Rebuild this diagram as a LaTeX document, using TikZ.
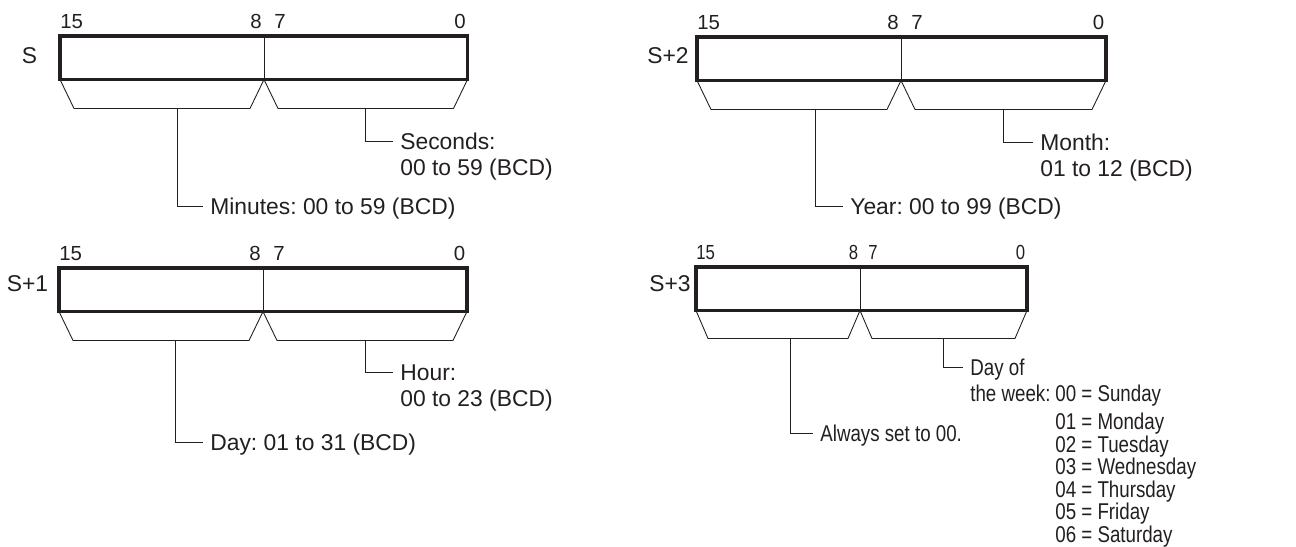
\documentclass[tikz,border=0pt]{standalone}
\usepackage{fontspec}
\setmainfont{Liberation Sans}
\newfontfamily\narrowfam[FakeStretch=0.82]{Liberation Sans}
\usepackage{tikz}
\usetikzlibrary{positioning,calc}
\definecolor{ink}{HTML}{231F20}
\frenchspacing
\newcommand\fieldfont{\fontsize{13}{15.5}\selectfont}
\newcommand\bitfont{\fontsize{11.6}{13.5}\selectfont}
\newcommand\narrowfont{\narrowfam\fontsize{13}{15.5}\selectfont}
\newcommand\narrowbitfont{\narrowfam\fontsize{11.6}{13.5}\selectfont}
\tikzset{
  regpart/.style={draw=ink, line width=0.5pt, minimum height=8.7mm, inner sep=0pt, outer sep=0pt},
  regframe/.style={draw=ink, line width=1.8pt},
  regname/.style={font=\fieldfont, text=ink, inner sep=0pt, text height=3.3mm, text depth=0pt, anchor=east},
  bitnum/.style={font=\bitfont, text=ink, inner sep=0pt, text depth=0pt},
  fieldtext/.style={font=\fieldfont, text=ink, anchor=west, inner xsep=1.4mm, inner ysep=0pt,
    text height=3.3mm, text depth=0pt},
  narrowtext/.style={fieldtext, font=\narrowfont},
  bracket/.style={draw=ink, line width=0.5pt},
  stemline/.style={draw=ink, line width=0.5pt},
}

\begin{document}
\begin{tikzpicture}
  \useasboundingbox (0,0) rectangle (25.92,10.94);
  % S: minutes / seconds
  \node[regname] (nS) at (0.75,9.84) {S};
  \node[regpart, minimum width=40.8mm, anchor=north west] (Sl) at (1.20,10.22) {};
  \node[regpart, minimum width=40.7mm, right=0pt of Sl] (Sr) {};
  \draw[regframe] (Sl.north west) rectangle (Sr.south east);
  \node[bitnum, above right=1.5mm and 0mm of Sl.north west] (S15) {15};
  \node[bitnum, above left=1.5mm and 0.4mm of Sl.north east] (S8) {8};
  \node[bitnum, above right=1.5mm and 2mm of Sr.north west] (S7) {7};
  \node[bitnum, above left=1.5mm and 0.3mm of Sr.north east] (S0) {0};
  \draw[bracket] (Sl.south west) -- ++(0.28,-0.58) -- ($(Sl.south east)+(-0.28,-0.58)$) -- (Sl.south east);
  \draw[bracket] (Sr.south west) -- ++(0.28,-0.58) -- ($(Sr.south east)+(-0.28,-0.58)$) -- (Sr.south east);
  \coordinate (Slstem) at ($(Sl.south)+(0.30,-0.58)$);
  \coordinate (Srstem) at ($(Sr.south)+(0,-0.58)$);
  \node[fieldtext] (Smin) at (4.06,6.82) {Minutes: 00 to 59 (BCD)};
  \node[fieldtext] (Ssec) at (7.86,8.12) {Seconds:};
  \node[fieldtext] (Ssec2) at ($(Ssec.west)+(0,-0.52)$) {00 to 59 (BCD)};
  \draw[stemline] (Slstem) |- (Smin.west);
  \draw[stemline] (Srstem) |- (Ssec.west);
  % S+1: day / hour
  \node[regname] (nS1) at (0.97,5.28) {S+1};
  \node[regpart, minimum width=40.8mm, anchor=north west] (S1l) at (1.18,5.58) {};
  \node[regpart, minimum width=40.8mm, right=0pt of S1l] (S1r) {};
  \draw[regframe] (S1l.north west) rectangle (S1r.south east);
  \node[bitnum, above right=1.5mm and 0mm of S1l.north west] (S115) {15};
  \node[bitnum, above left=1.5mm and 0.4mm of S1l.north east] (S18) {8};
  \node[bitnum, above right=1.5mm and 2mm of S1r.north west] (S17) {7};
  \node[bitnum, above left=1.5mm and 0.3mm of S1r.north east] (S10) {0};
  \draw[bracket] (S1l.south west) -- ++(0.28,-0.58) -- ($(S1l.south east)+(-0.28,-0.58)$) -- (S1l.south east);
  \draw[bracket] (S1r.south west) -- ++(0.28,-0.58) -- ($(S1r.south east)+(-0.28,-0.58)$) -- (S1r.south east);
  \coordinate (S1lstem) at ($(S1l.south)+(0.28,-0.58)$);
  \coordinate (S1rstem) at ($(S1r.south)+(0,-0.58)$);
  \node[fieldtext] (S1day) at (4.06,2.10) {Day: 01 to 31 (BCD)};
  \node[fieldtext] (S1hour) at (7.86,3.49) {Hour:};
  \node[fieldtext] (S1hour2) at ($(S1hour.west)+(0,-0.52)$) {00 to 23 (BCD)};
  \draw[stemline] (S1lstem) |- (S1day.west);
  \draw[stemline] (S1rstem) |- (S1hour.west);
  % S+2: year / month
  \node[regname] (nS2) at (13.78,9.84) {S+2};
  \node[regpart, minimum width=40.8mm, anchor=north west] (S2l) at (13.94,10.20) {};
  \node[regpart, minimum width=41.0mm, right=0pt of S2l] (S2r) {};
  \draw[regframe] (S2l.north west) rectangle (S2r.south east);
  \node[bitnum, above right=1.5mm and 0mm of S2l.north west] (S215) {15};
  \node[bitnum, above left=1.5mm and 0.4mm of S2l.north east] (S28) {8};
  \node[bitnum, above right=1.5mm and 2mm of S2r.north west] (S27) {7};
  \node[bitnum, above left=1.5mm and 0.3mm of S2r.north east] (S20) {0};
  \draw[bracket] (S2l.south west) -- ++(0.28,-0.58) -- ($(S2l.south east)+(-0.28,-0.58)$) -- (S2l.south east);
  \draw[bracket] (S2r.south west) -- ++(0.28,-0.58) -- ($(S2r.south east)+(-0.28,-0.58)$) -- (S2r.south east);
  \coordinate (S2lstem) at ($(S2l.south)+(0.32,-0.58)$);
  \coordinate (S2rstem) at ($(S2r.south)+(0,-0.58)$);
  \node[fieldtext] (S2year) at (16.86,6.82) {Year: 00 to 99 (BCD)};
  \node[fieldtext] (S2month) at (20.66,8.10) {Month:};
  \node[fieldtext] (S2month2) at ($(S2month.west)+(0,-0.52)$) {01 to 12 (BCD)};
  \draw[stemline] (S2lstem) |- (S2year.west);
  \draw[stemline] (S2rstem) |- (S2month.west);
  % S+3: always 00 / day of the week
  \node[regname] (nS3) at (13.82,5.28) {S+3};
  \node[regpart, minimum width=32.8mm, anchor=north west] (S3l) at (13.92,5.60) {};
  \node[regpart, minimum width=33.4mm, right=0pt of S3l] (S3r) {};
  \draw[regframe] (S3l.north west) rectangle (S3r.south east);
  \node[bitnum, font=\narrowbitfont, above right=1.5mm and 0mm of S3l.north west] (S315) {15};
  \node[bitnum, font=\narrowbitfont, above left=1.5mm and 0.3mm of S3l.north east] (S38) {8};
  \node[bitnum, font=\narrowbitfont, above right=1.5mm and 1.6mm of S3r.north west] (S37) {7};
  \node[bitnum, font=\narrowbitfont, above left=1.5mm and 0.3mm of S3r.north east] (S30) {0};
  \draw[bracket] (S3l.south west) -- ++(0.24,-0.56) -- ($(S3l.south east)+(-0.24,-0.56)$) -- (S3l.south east);
  \draw[bracket] (S3r.south west) -- ++(0.24,-0.56) -- ($(S3r.south east)+(-0.24,-0.56)$) -- (S3r.south east);
  \coordinate (S3lstem) at ($(S3l.south)+(0.24,-0.56)$);
  \coordinate (S3rstem) at ($(S3r.south)+(0,-0.56)$);
  \node[narrowtext] (S3zero) at (16.26,2.28) {Always set to 00.};
  \node[narrowtext] (S3dow) at (19.26,3.59) {Day of};
  \node[narrowtext] (S3dow2) at ($(S3dow.west)+(0,-0.52)$) {the week:};
  \draw[stemline] (S3lstem) |- (S3zero.west);
  \draw[stemline] (S3rstem) |- (S3dow.west);
  \foreach \dnum/\dname/\dy in {00/Sunday/3.07, 01/Monday/2.52, 02/Tuesday/2.06, 03/Wednesday/1.61,
      04/Thursday/1.16, 05/Friday/0.71, 06/Saturday/0.26}
    \node[narrowtext] (wd\dnum) at (20.96,\dy) {\dnum\ = \dname};
\end{tikzpicture}
\end{document}
